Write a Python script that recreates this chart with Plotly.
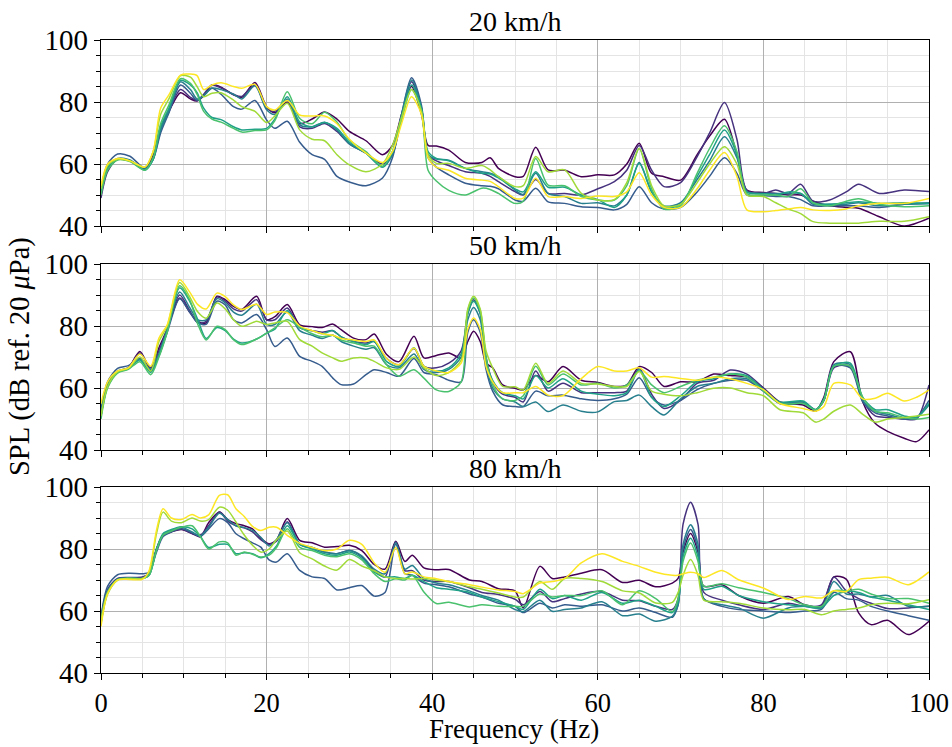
import plotly.graph_objects as go

# ---------------- data ----------------
speeds = ["20 km/h", "50 km/h", "80 km/h"]
line_colors = ["#440154", "#46327e", "#365c8d", "#277f8e",
               "#1fa187", "#4ac16d", "#a0da39", "#fde725"]

freq_20 = [0, 0.8, 2, 3.5, 5.3, 6.3, 7.2, 8.2, 9.6, 10.8,
           11.6, 12.4, 13.4, 14.5, 16, 17, 18.6, 20, 21, 22.5,
           24, 25.5, 27, 28.5, 30, 32, 34, 35.2, 36.3, 37.5,
           38.7, 39.5, 40.5, 42, 44, 46, 47, 48, 50, 51,
           52.5, 54, 56, 58, 60, 62, 63.5, 65, 66.5, 68,
           70, 72, 73.5, 75.3, 76.8, 78, 80, 81.5, 83, 84.5,
           86, 88, 90, 91.5, 94, 97, 100]

spl_20_m1 = [50, 58, 61.5, 61, 58.5, 63, 72, 77, 83, 81,
             80.3, 82, 85.5, 84.8, 82.3, 81.5, 86.3, 78.5, 76.5, 80,
             73, 74.5, 76.8, 74.5, 70.5, 67.5, 63, 66, 76, 85,
             76, 66, 65.8, 64.5, 60.5, 60.5, 62, 58.6, 55.9, 56,
             65.4, 58.1, 58, 55.9, 56.5, 56.5, 60, 66.7, 57, 55.9,
             54.8, 63, 69, 74.4, 63, 51.6, 50.8, 50.5, 50, 50,
             48, 46.5, 46, 45.7, 43, 40, 42.5]
spl_20_m2 = [49, 57.5, 61.5, 61, 58.5, 62, 71, 77, 84, 81.5,
             80.5, 82.5, 85.5, 84.5, 82.5, 81.8, 85.5, 78, 77, 80.6,
             72, 71.5, 73.1, 70.5, 66.5, 63.5, 60, 63, 75, 86.5,
             78, 63, 61, 59.5, 57.5, 57, 56, 54.3, 51.1, 50,
             55, 50.5, 50.5, 50, 52, 54.3, 58, 66, 58, 52.7,
             54, 62.4, 70, 79.8, 68, 51.5, 50.5, 51.6, 50.5, 53.5,
             48, 48.4, 51, 53.5, 50.5, 51.6, 51.1]
spl_20_m3 = [52, 60, 63.2, 62.5, 58.6, 61.5, 70, 76.5, 85.5, 82.8,
             80.5, 82, 84.4, 82.5, 78.5, 77.7, 80.5, 74.2, 71.5, 73.8,
             67, 63, 61.5, 56, 54.2, 53, 55.5, 62, 76, 87.8,
             79, 62, 59, 56.5, 53.8, 53, 52.8, 52, 48.4, 48,
             52.2, 47.8, 47.3, 46.2, 46, 45.2, 47, 52.7, 47.5, 45.5,
             46, 51, 56, 62, 57, 50, 49.8, 49.5, 49.5, 48.5,
             46.5, 46.5, 46.5, 46.5, 46, 47, 47.5]
spl_20_m4 = [51, 59, 61.8, 61.3, 58.3, 61.5, 71, 77, 86.5, 84,
             81, 82, 84.5, 84, 82.5, 81, 85.2, 77.5, 76, 81,
             72.6, 72, 73.5, 71, 66.5, 63.5, 59, 63, 76, 87.1,
             78, 63, 61.6, 61.2, 58.6, 57.5, 57, 55.9, 51.6, 50.2,
             57, 50.5, 49.5, 47.3, 47.5, 46.5, 50, 60.5, 51, 46.5,
             47.5, 55, 61, 68.8, 62, 51, 50.5, 50.5, 50.5, 50.5,
             47, 47, 47, 47.5, 46.5, 47, 47.2]
spl_20_m5 = [51, 59, 61.6, 61, 58, 61.5, 72, 78, 87, 85.5,
             83, 78, 75, 74.3, 72, 71, 71.2, 71.5, 74.5, 81.7,
             73.5, 72, 73.4, 71.5, 67, 63.5, 59, 64, 75, 85.5,
             78, 64, 61.8, 61, 58.6, 57, 56.8, 55.5, 52, 51,
             57.5, 52.5, 52.5, 50, 48.5, 46, 50, 60.2, 51, 46,
             47, 56, 63, 71, 63, 51, 50.5, 50, 51, 50.5,
             47.5, 47, 47.5, 47.8, 47.3, 47.5, 47.3]
spl_20_m6 = [50, 58, 61.3, 60.8, 58, 62, 73, 79, 87.5, 86,
             82.5, 77, 74.5, 73.5, 71.5, 70.3, 70.8, 71, 74, 83.3,
             74.7, 73, 76.7, 73.5, 67.7, 64, 59.3, 64, 74, 84,
             77, 58, 54.5, 51.5, 50, 52.2, 51.8, 50.5, 47.3, 48,
             61.8, 53.2, 53, 49.5, 48.4, 48.4, 53, 65, 52, 45.5,
             46.5, 57, 65, 72.3, 64, 50.5, 50, 50, 49.5, 52,
             47.5, 46.5, 48, 48.8, 47, 46.2, 46.5]
spl_20_m7 = [52, 59.5, 61.5, 61, 59, 64, 76, 81, 88.5, 88,
             85, 81.7, 82.8, 83, 80.6, 78.5, 77, 73.4, 75.5, 79.6,
             71, 68, 67.5, 63, 59.7, 57.5, 60, 66, 75, 84,
             77, 63, 60.2, 60.2, 58.6, 59.5, 58.1, 55.9, 52.7, 53,
             62.4, 57.5, 58.1, 50.5, 48.4, 48.5, 54, 65, 53, 46.5,
             47, 54, 60, 65.6, 60, 50, 49.5, 47.5, 45.5, 44,
             41.4, 40.9, 40.9, 40.9, 41.5, 41.5, 43]
spl_20_m8 = [53, 60, 61.8, 61, 59, 64, 78, 82.3, 88.7, 89,
             88.5, 84, 85.5, 86.2, 85, 84.4, 85.7, 78.5, 77.4, 80.5,
             75.8, 75.5, 75.5, 73, 68, 63.5, 60.5, 64, 73, 81.7,
             76, 62, 59, 58, 55.4, 54.8, 54.4, 52.7, 48.9, 49,
             55.4, 49.5, 49.5, 48.9, 49.7, 49.5, 51, 57.2, 50, 46,
             46, 52, 58, 63.7, 56, 45.2, 44.6, 45, 45.5, 46,
             45.2, 45, 45.5, 46.5, 47.3, 47.3, 48.9]

freq_50 = [0, 0.8, 2, 3.3, 4.7, 6, 7, 8, 9.5, 10.7,
           11.7, 12.7, 14, 15, 16, 17, 18.8, 20, 21, 22.5,
           24, 25.5, 26.7, 28, 29, 30.5, 32, 33, 34.5, 36,
           37.8, 39, 40.5, 42, 43.5, 44.3, 45, 45.8, 46.5, 47.3, 48.5, 50,
           51, 52.5, 54, 55.8, 58, 60, 62, 63.5, 65, 66.5,
           68, 70, 72, 74, 76, 78, 80, 82, 84.8, 86.3,
           87.3, 88.5, 90.5, 92, 93.5, 95, 97, 98.5, 100]

spl_50_m1 = [52, 61, 65.2, 66.5, 71.8, 66, 73, 79, 89, 84.5,
             81.5, 81, 89.6, 88.5, 86.3, 85.3, 89.6, 82, 83, 86.9,
             80.4, 79.8, 79.5, 80.6, 78.8, 76.1, 75.6, 77.4, 70.8, 68.5,
             76.7, 69.7, 70.5, 71.3, 69.7, 75, 78.3, 75, 68, 66.5, 61, 59.9,
             59.4, 64, 62, 66.9, 62.5, 61.8, 60.5, 61, 66.9, 65,
             60.5, 62, 62, 64.5, 64, 63.5, 60, 55.5, 54.5, 52.5,
             57, 68.5, 71.7, 55.5, 48.6, 46, 43.8, 42.7, 46.5]
spl_50_m2 = [51, 60.5, 65.2, 66.5, 71.3, 66.5, 72, 79, 90, 85,
             81, 81.5, 89.3, 88, 85.5, 84.8, 88.5, 82, 82, 85.8,
             79.5, 78.5, 78, 78.5, 76.5, 75, 74.5, 75, 69.5, 67.5,
             72.7, 67, 66.5, 68, 72, 84, 88.5, 84, 70, 62, 58, 57,
             55.5, 65.5, 59, 61.5, 58.5, 58.5, 58.5, 59, 66.4, 58,
             53.4, 56, 61.5, 62.5, 65.8, 64.5, 60, 55, 55.5, 53,
             56, 66.5, 67, 56, 51, 50.5, 50, 50, 61]
spl_50_m3 = [53, 62, 66.3, 67.2, 69.5, 65.5, 70.5, 78, 88.8, 84.5,
             81, 80.5, 88, 86.8, 82, 81, 83.7, 78.8, 73.4, 76.1,
             70.2, 68.6, 67, 63.2, 61.1, 61.3, 64.3, 65.9, 65, 63.8,
             69.5, 65, 64.3, 62.5, 62, 78, 82, 78, 66, 59, 54.6, 54,
             54, 59, 57.5, 57.7, 56.5, 56, 56.5, 58, 63.3, 57,
             54.5, 56, 59.5, 61.5, 62.5, 62.5, 59, 55, 55, 53,
             56, 67, 66.5, 55.5, 52, 51, 50, 50.5, 56]
spl_50_m4 = [52, 61.5, 65.5, 66.5, 69.3, 66, 71, 79, 91, 86,
             82, 82, 88.8, 87.5, 84.5, 83.5, 87, 80.5, 80.5, 84.5,
             78.5, 77, 76, 77, 75, 73.5, 72.5, 73, 67.5, 66.5,
             71, 66, 65, 66, 70, 82, 86, 82, 68, 60, 56.5, 55.5,
             54, 55.5, 52.4, 54.5, 52.5, 52.3, 55.6, 56, 57.7, 54,
             51.3, 56.5, 60.5, 61.5, 63, 63, 59.5, 55.2, 55.5, 53,
             56, 67.5, 67.5, 56, 52.5, 51.5, 50.2, 50.5, 54.5]
spl_50_m5 = [51, 60.5, 65, 66.2, 69, 65, 70.5, 78.5, 92.3, 88,
             82, 76, 79.5, 78.5, 75.8, 74.5, 75.8, 77.7, 79, 85,
             79.5, 78.5, 77.5, 78.5, 76.5, 75, 74, 75, 68.5, 67,
             73, 67, 65.5, 66.5, 71, 84, 88, 84, 69, 62.5, 58.5, 57.5,
             56.5, 64, 60, 63, 59, 58, 57.5, 58.5, 66, 57,
             54, 57.5, 62, 63, 64.5, 64, 59.5, 55.5, 55.8, 53,
             56.5, 67, 68, 57, 53, 53, 51, 50.5, 55]
spl_50_m6 = [50, 60, 64.8, 66, 68.5, 64.3, 70, 78, 93, 88.5,
             80.5, 75.5, 79.9, 78.8, 75.6, 74, 75.8, 77.7, 79.4, 82,
             79.6, 77.5, 76.5, 77, 75.5, 74.5, 73.5, 73.5, 67.5, 63.8,
             65.9, 63.2, 59.4, 58.9, 62, 85, 89, 85, 70, 61, 56.5, 56,
             57.5, 67, 61, 64.5, 61, 61.5, 60, 61, 65.5, 61,
             58.5, 60.5, 62.5, 63.5, 64.5, 63.5, 59, 55, 55, 53,
             56, 67, 67, 57, 52.5, 52, 50.5, 50, 50.5]
spl_50_m7 = [51, 60.5, 65.2, 66.3, 70, 65.5, 75, 80, 94, 89.5,
             84.5, 82.5, 87.4, 85.5, 82, 79.9, 81.5, 80.5, 81, 81.5,
             75.6, 73.5, 71.3, 69.7, 68.6, 69.7, 69.7, 68.6, 66.5, 66,
             70, 66.5, 64, 65, 69, 85.5, 89.6, 85.5, 72, 66.5, 60.5, 60.4,
             59.4, 68, 61.5, 65.5, 61.5, 61.3, 60.5, 60.5, 65.3, 59,
             58, 57.5, 58.5, 59.9, 60, 58.5, 57.5, 53, 52, 49,
             50, 52.5, 54.5, 51.5, 49, 50, 50.5, 51, 51.5]
spl_50_m8 = [55, 62, 65.5, 66.5, 71, 67, 76.1, 80.4, 94.9, 91,
             86.9, 85.5, 90.6, 89.5, 86.8, 85.3, 87, 83.7, 84.5, 84.3,
             80, 78.5, 77.5, 77, 76, 75.5, 75, 75.5, 69.5, 67.5,
             72.9, 67, 65.5, 65, 68, 79, 82.6, 79, 67, 62, 58.5, 58.5,
             58.5, 60.5, 57.7, 57.5, 63, 66.9, 65.5, 65.5, 66.5, 63.5,
             63.7, 63.1, 62.5, 63.5, 63, 61.5, 59.5, 55, 53.4, 52.5,
             54, 61.5, 61, 56.5, 56.7, 58.3, 55.8, 57, 59.4]

freq_80 = [0, 0.8, 2, 3.5, 5, 5.8, 6.7, 7.5, 8.5, 9.7,
           11, 12, 13, 14.3, 15.3, 16.3, 17.3, 18.3, 19.3, 20.3,
           21.2, 22.5, 24, 25.5, 27, 28.5, 30, 31.5, 33, 34.3,
           35.6, 36.7, 37.6, 39, 40.5, 42, 44.5, 46, 48, 50,
           51, 53, 54.5, 56, 58, 60.5, 63, 65, 67, 69,
           69.7, 70.3, 71.2, 72.1, 72.8, 75, 77, 80, 83, 85,
           87, 88.5, 90, 91.5, 93, 95, 97.5, 100]

spl_80_m1 = [57, 66, 70.3, 70.5, 70.8, 72, 80, 84.5, 85.5, 86.3,
             85, 83.9, 88.5, 91.9, 89.5, 88.2, 87.5, 86.5, 83.5, 81.7,
             83, 89.8, 82.8, 82, 80.6, 80.8, 81.2, 79.5, 75, 73.5,
             82.5, 76, 78, 73.9, 73.3, 73.4, 70, 69.5, 67.2, 66.5,
             61, 74.4, 70.5, 71, 72.2, 73.3, 69.2, 69.9, 67.8, 69,
             70.5, 79, 85, 79, 68, 68.5, 65, 62.5, 64.7, 62,
             61.5, 71, 70.3, 59.4, 55.6, 57, 52.4, 56.7]
spl_80_m2 = [58, 67, 70.5, 70.8, 71, 72, 80, 84.5, 86, 86.5,
             85, 84.5, 87.5, 91.9, 89, 87.5, 86.8, 85.5, 83, 81.5,
             82.5, 88.8, 81.5, 80.5, 79, 78.5, 79.5, 77.5, 73, 71,
             82.3, 73, 73, 70, 69.5, 69.5, 67.5, 66, 65.3, 63.8,
             62, 66.3, 63, 64, 65.5, 66.3, 63.5, 63.3, 61.5, 60.5,
             64, 88, 95.1, 88, 66, 63.5, 62, 60.5, 62.5, 61.5,
             62, 71, 66.5, 64, 62.5, 60.8, 61, 61.5]
spl_80_m3 = [58, 68, 71.7, 72.2, 72, 72.5, 79, 84, 85.5, 86.5,
             85.3, 84, 86.5, 89.8, 88.5, 84.9, 83.3, 82, 80.6, 76.5,
             75.8, 78.5, 73.1, 71, 70.5, 66.8, 67.5, 68.2, 64.8, 66,
             81.5, 72, 71.5, 69, 68.5, 67.8, 65.5, 64.5, 62.5, 61.5,
             59.5, 62.5, 61, 62, 61.5, 62, 60, 61, 59.5, 58,
             62, 80, 86.3, 80, 64, 61.5, 60.5, 60, 59.5, 60,
             60.5, 66, 64, 63.5, 61.5, 60, 58.5, 57]
spl_80_m4 = [57, 66.5, 70.3, 70.5, 70.5, 71.5, 79.5, 84.5, 86, 87,
             85.5, 84.2, 87, 91.5, 89.5, 87.5, 86.9, 86, 83.8, 81,
             83, 88.5, 81.7, 80.5, 79, 78.5, 79.5, 77.8, 73.5, 72,
             82, 73.5, 74.7, 70.5, 69, 68.5, 66.5, 65, 63.5, 60.5,
             59.8, 63.5, 59.9, 60.5, 61, 63, 58.5, 59, 56.7, 58.3,
             62, 81.5, 87.8, 81.5, 64, 62, 61, 57.7, 61, 61.5,
             61, 69.5, 65.5, 65.5, 64.5, 65, 61.5, 61.5]
spl_80_m5 = [56, 66, 70.2, 70.6, 70.5, 71.5, 80, 85, 86.3, 87.2,
             86.5, 84, 80.5, 81.5, 81.5, 78.5, 78.8, 78.5, 77.2, 78.5,
             81, 87.5, 81.5, 80, 78.5, 78, 79, 77, 72.5, 71,
             71, 70.5, 71.5, 69.5, 67.5, 67, 66, 64.5, 63, 61.5,
             60.5, 67, 64, 65, 63.5, 66, 62.5, 63.5, 61.5, 59.5,
             63, 77.5, 83.5, 77.5, 67, 68, 65, 63, 62, 61.5,
             61, 65, 66.3, 66, 64.5, 63.5, 62, 60.5]
spl_80_m6 = [56, 65.5, 70, 70.5, 70.5, 71.5, 79.5, 84.5, 85.8, 87,
             87.5, 84, 80, 82.3, 82, 78, 79, 78.3, 77.4, 78,
             80.5, 86.5, 80.5, 79.5, 78, 77.5, 78.5, 76.5, 72, 69.5,
             70.4, 70, 71.5, 66.1, 62.4, 62.8, 61.3, 62, 61.5, 61.5,
             61.5, 65.5, 64.5, 65, 65, 66.5, 62, 66.5, 64, 59.8,
             64, 76, 81.9, 76, 68, 68.8, 67.5, 66, 64, 62,
             61.5, 66.5, 66.5, 67, 65.5, 64, 64, 62.5]
spl_80_m7 = [57, 66, 70, 70.5, 70.5, 72.5, 85, 91.9, 89, 88.5,
             90, 89, 89.5, 93.5, 92.5, 88.7, 84.5, 81.2, 79, 80,
             83, 85.8, 78.8, 76.8, 74.5, 73.2, 76.6, 74.5, 73, 71,
             70.5, 70.5, 70.3, 70.5, 70, 69.5, 67.8, 67, 65.8, 64.5,
             64.5, 69.5, 67, 70.5, 70.5, 69.5, 66.5, 65.8, 62.6, 62.8,
             66, 71.5, 76.6, 71.5, 63.5, 63, 62.5, 61, 60.4, 60.5,
             58.8, 60, 60.5, 61, 62, 62.5, 62.3, 63.6]
spl_80_m8 = [55, 65.5, 70, 70.2, 70.2, 73, 86, 93, 90, 89.5,
             91.1, 90, 91, 97.3, 97.5, 93, 90.5, 87.3, 86, 87,
             87, 84.4, 81.8, 80.5, 79.5, 80, 82.8, 81.5, 75.5, 72.5,
             80.5, 72, 72.6, 71, 70.4, 69.5, 68.5, 67.7, 66.8, 66.3,
             65.6, 69, 69.5, 70.5, 75.5, 78.5, 76, 74.4, 72.5, 71.5,
             71.5, 72, 72.5, 72, 70.8, 73.1, 70.1, 67.4, 63.7, 64.7,
             64.2, 66.5, 66.3, 70.1, 70.6, 70.9, 68.5, 72.6]

y_ticks = [40, 60, 80, 100]
x_ticks = [0, 20, 40, 60, 80, 100]

panels = [
    (freq_20, [spl_20_m1, spl_20_m2, spl_20_m3, spl_20_m4,
               spl_20_m5, spl_20_m6, spl_20_m7, spl_20_m8]),
    (freq_50, [spl_50_m1, spl_50_m2, spl_50_m3, spl_50_m4,
               spl_50_m5, spl_50_m6, spl_50_m7, spl_50_m8]),
    (freq_80, [spl_80_m1, spl_80_m2, spl_80_m3, spl_80_m4,
               spl_80_m5, spl_80_m6, spl_80_m7, spl_80_m8]),
]

# ---------------- figure ----------------
FONT = "Liberation Serif"
W, H = 952, 747
ML, MR, MT, MB = 101, 23, 40, 74
plot_h = H - MT - MB
panel_px = [(40, 226), (264, 450), (487, 673)]
domains = [[(H - MB - b) / plot_h, (H - MB - t) / plot_h] for t, b in panel_px]

fig = go.Figure()
for i, (fx, series) in enumerate(panels):
    xa = "x" if i == 0 else f"x{i+1}"
    ya = "y" if i == 0 else f"y{i+1}"
    for j, vals in enumerate(series):
        fig.add_trace(go.Scatter(
            x=fx, y=vals, mode="lines", xaxis=xa, yaxis=ya,
            line=dict(color=line_colors[j], width=1.5, shape="spline", smoothing=0.8),
            showlegend=False, hoverinfo="skip"))

axis_common = dict(
    showline=True, mirror=True, linecolor="black", linewidth=1.3,
    ticks="outside", ticklen=6, tickwidth=1.2, tickcolor="black",
    showgrid=True, gridcolor="#b0b0b0", gridwidth=1, zeroline=False,
    automargin=False,
)
minor_common = dict(dtick=5, ticks="outside", ticklen=3.5, tickwidth=1,
                    tickcolor="black", showgrid=True, gridcolor="#e4e4e4", gridwidth=1)

layout = dict(
    width=W, height=H, margin=dict(l=ML, r=MR, t=MT, b=MB),
    paper_bgcolor="white", plot_bgcolor="white",
    font=dict(family=FONT, color="black"),
    annotations=[],
)
for i in range(3):
    xk = "xaxis" if i == 0 else f"xaxis{i+1}"
    yk = "yaxis" if i == 0 else f"yaxis{i+1}"
    ya = "y" if i == 0 else f"y{i+1}"
    xa = "x" if i == 0 else f"x{i+1}"
    layout[xk] = dict(axis_common, domain=[0, 1], anchor=ya, range=[0, 100],
                      tickvals=x_ticks, showticklabels=(i == 2),
                      tickfont=dict(family=FONT, size=26.5, color="black"),
                      minor=minor_common)
    layout[yk] = dict(axis_common, domain=domains[i], anchor=xa, range=[40, 100],
                      tickvals=y_ticks,
                      tickfont=dict(family=FONT, size=29, color="black"),
                      minor=minor_common)
    layout["annotations"].append(dict(
        text=speeds[i], x=0.5, y=domains[i][1], xref="paper", yref="paper",
        xanchor="center", yanchor="bottom", yshift=1, showarrow=False,
        font=dict(family=FONT, size=28, color="black")))

layout["annotations"].append(dict(
    text="SPL (dB ref. 20 <i>μ</i>Pa)", textangle=-90,
    x=(20 - ML) / (W - ML - MR), y=(H - MB - 357) / plot_h,
    xref="paper", yref="paper", xanchor="center", yanchor="middle",
    showarrow=False, font=dict(family=FONT, size=28.5, color="black")))
layout["annotations"].append(dict(
    text="Frequency (Hz)",
    x=(514 - ML) / (W - ML - MR), y=-(729.5 - (H - MB)) / plot_h,
    xref="paper", yref="paper", xanchor="center", yanchor="middle",
    showarrow=False, font=dict(family=FONT, size=27, color="black")))

fig.update_layout(**layout)
fig.write_html("out.html")
